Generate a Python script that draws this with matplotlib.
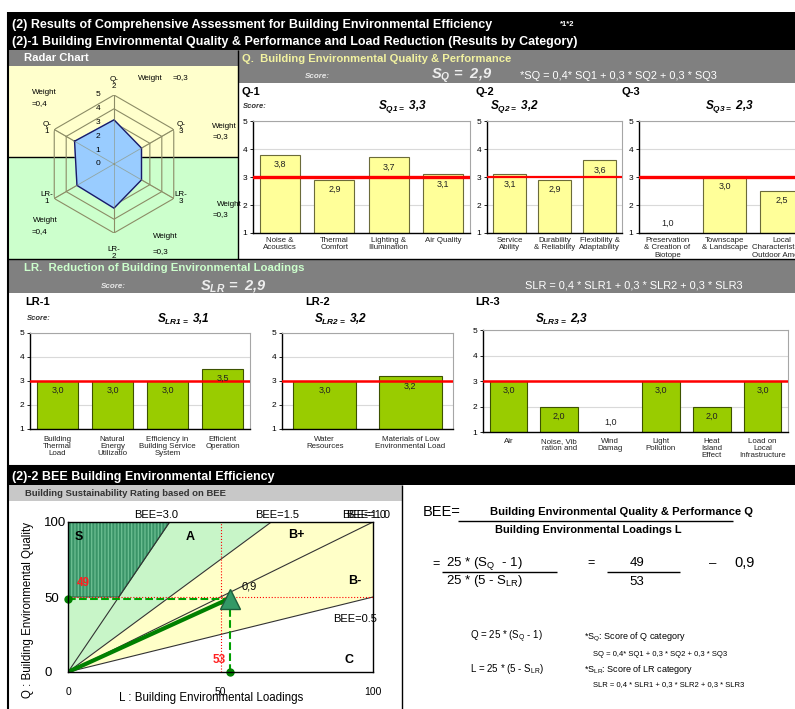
import matplotlib
matplotlib.use('Agg')
import matplotlib.pyplot as plt
import numpy as np
from matplotlib.patches import Rectangle, Polygon

plt.rcParams['font.family'] = ['Liberation Sans', 'DejaVu Sans']
plt.rcParams['mathtext.default'] = 'regular'
plt.rcParams['hatch.linewidth'] = 0.9

# ---------------- data ----------------
radar_labels = ['Q-\n1', 'Q-\n2', 'Q-\n3', 'LR-\n3', 'LR-\n2', 'LR-\n1']
radar_scores = [3.3, 3.2, 2.3, 2.3, 3.2, 3.1]
radar_weights = ['=0,4', '=0,3', '=0,3', '=0,3', '=0,3', '=0,4']

q1_cats = ['Noise &\nAcoustics', 'Thermal\nComfort', 'Lighting &\nIllumination', 'Air Quality']
q1_vals = [3.8, 2.9, 3.7, 3.1]
q2_cats = ['Service\nAbility', 'Durability\n& Reliability', 'Flexibility &\nAdaptability']
q2_vals = [3.1, 2.9, 3.6]
q3_cats = ['Preservation\n& Creation of\nBiotope', 'Townscape\n& Landscape',
           'Local\nCharacteristics &\nOutdoor Amenity']
q3_vals = [1.0, 3.0, 2.5]
lr1_cats = ['Building\nThermal\nLoad', 'Natural\nEnergy\nUtilizatio',
            'Efficiency in\nBuilding Service\nSystem', 'Efficient\nOperation']
lr1_vals = [3.0, 3.0, 3.0, 3.5]
lr2_cats = ['Water\nResources', 'Materials of Low\nEnvironmental Load']
lr2_vals = [3.0, 3.2]
lr3_cats = ['Air', 'Noise, Vib\nration and', 'Wind\nDamag', 'Light\nPollution',
            'Heat\nIsland\nEffect', 'Load on\nLocal\nInfrastructure']
lr3_vals = [3.0, 2.0, 1.0, 3.0, 2.0, 3.0]

S_Q, S_LR = 2.9, 2.9
S_Q1, S_Q2, S_Q3 = 3.3, 3.2, 2.3
S_LR1, S_LR2, S_LR3 = 3.1, 3.2, 2.3
Q_score, L_score = 49, 53
BEE_value = 0.9
bee_levels = [3.0, 1.5, 1.0, 0.5]


def fmt(v):
    return f'{v:.1f}'.replace('.', ',')


# ---------------- figure ----------------
W, H = 795, 709
fig = plt.figure(figsize=(W / 100, H / 100), dpi=100)
fig.patch.set_facecolor('white')

bg = fig.add_axes([0, 0, 1, 1])
bg.set_xlim(0, W)
bg.set_ylim(H, 0)
bg.axis('off')


def add_ax(x0, y0, x1, y1, **kw):
    return fig.add_axes([x0 / W, 1 - y1 / H, (x1 - x0) / W, (y1 - y0) / H], **kw)


def R(x0, y0, x1, y1, color, **kw):
    bg.add_patch(Rectangle((x0, y0), x1 - x0, y1 - y0, facecolor=color, edgecolor='none', **kw))


def L(xs, ys, color='black', lw=1, **kw):
    bg.plot(xs, ys, color=color, lw=lw, solid_capstyle='butt', **kw)


def T(x, y, s, size=7, color='black', weight='normal', style='normal', ha='left', va='center', **kw):
    bg.text(x, y, s, fontsize=size, color=color, fontweight=weight, fontstyle=style,
            ha=ha, va=va, **kw)


# backgrounds
R(8, 12, W, 50, 'black')
R(8, 50, 238, 66, '#808080')
R(8, 66, 238, 157, '#ffffcc')
R(8, 157, 238, 259, '#ccffcc')
R(238, 50, W, 83, '#808080')
R(8, 259, W, 293, '#808080')
R(8, 466, W, 485, 'black')
R(8, 485, 402, 501, '#c8c8c8')
L([8, 8], [12, 709], lw=1.5)
L([238, 238], [50, 259], lw=1)
L([8, 238], [157, 157], lw=1)
L([402, 402], [485, 709], lw=1)
L([8, W], [258.5, 258.5], lw=1)
L([8, W], [466, 466], lw=1.5)

# titles
T(12, 25, '(2) Results of Comprehensive Assessment for Building Environmental Efficiency',
  size=9, color='white', weight='bold')
T(560, 24, '*1*2', size=5.5, color='white', weight='bold')
T(12, 42, '(2)-1 Building Environmental Quality & Performance and Load Reduction (Results by Category)',
  size=9, color='white', weight='bold')
T(24, 58, 'Radar Chart', size=8.1, color='white', weight='bold')
T(242, 59, 'Q.  Building Environmental Quality & Performance', size=8.1, color='#f2f2a0', weight='bold')
T(305, 76, 'Score:', size=5.8, color='#e8e8e8', weight='bold', style='italic')
T(431, 76, '$S_Q$ =  ' + fmt(S_Q), size=10.5, color='#eeeeee', weight='bold', style='italic')
T(520, 76, '*SQ = 0,4* SQ1 + 0,3 * SQ2 + 0,3 * SQ3', size=7.9, color='white')

T(24, 268, 'LR.  Reduction of Building Environmental Loadings', size=8.2, color='#ccffcc', weight='bold')
T(101, 286, 'Score:', size=5.8, color='#e8e8e8', weight='bold', style='italic')
T(200, 286, '$S_{LR}$ =  ' + fmt(S_LR), size=10.5, color='#eeeeee', weight='bold', style='italic')
T(525, 286, 'SLR = 0,4 * SLR1 + 0,3 * SLR2 + 0,3 * SLR3', size=7.9, color='white')

# panel titles
T(242, 92, 'Q-1', size=8, weight='bold')
T(243, 107, 'Score:', size=5.5, weight='bold', style='italic', color='#333333')
T(378, 107, '$S_{Q1=}$ ' + fmt(S_Q1), size=8.5, weight='bold', style='italic')
T(476, 92, 'Q-2', size=8, weight='bold')
T(490, 107, '$S_{Q2=}$ ' + fmt(S_Q2), size=8.5, weight='bold', style='italic')
T(621, 92, 'Q-3', size=8, weight='bold')
T(705, 107, '$S_{Q3=}$ ' + fmt(S_Q3), size=8.5, weight='bold', style='italic')

T(25, 302, 'LR-1', size=8, weight='bold')
T(27, 319, 'Score:', size=5.5, weight='bold', style='italic', color='#333333')
T(157, 319, '$S_{LR1=}$ ' + fmt(S_LR1), size=8.5, weight='bold', style='italic')
T(305, 302, 'LR-2', size=8, weight='bold')
T(314, 319, '$S_{LR2=}$ ' + fmt(S_LR2), size=8.5, weight='bold', style='italic')
T(475, 302, 'LR-3', size=8, weight='bold')
T(535, 319, '$S_{LR3=}$ ' + fmt(S_LR3), size=8.5, weight='bold', style='italic')


# ---------------- bar panels ----------------
def bar_panel(box, cats, vals, color, edge, red_lw, lab_size=5.7, lab_pad=3):
    ax = add_ax(*box)
    x = np.arange(len(cats))
    ax.bar(x, vals, width=0.74, color=color, edgecolor=edge, linewidth=0.8, zorder=2)
    ax.axhline(3, color='red', lw=red_lw, zorder=3)
    ax.set_ylim(1, 5)
    ax.set_xlim(-0.5, len(cats) - 0.5)
    ax.set_yticks([1, 2, 3, 4, 5])
    ax.tick_params(axis='y', labelsize=6, length=2, pad=2, width=0.6)
    ax.set_xticks(x)
    ax.set_xticklabels(cats, fontsize=lab_size, linespacing=1.05, color='#222222')
    ax.tick_params(axis='x', length=0, pad=lab_pad)
    ax.yaxis.grid(True, color='#d9d9d9', lw=0.8)
    ax.set_axisbelow(True)
    for s in ['top', 'right']:
        ax.spines[s].set_color('#a6a6a6')
        ax.spines[s].set_linewidth(0.8)
    for s in ['left', 'bottom']:
        ax.spines[s].set_color('black')
        ax.spines[s].set_linewidth(1.0)
    for xi, v in zip(x, vals):
        off = -7 if v > 1 else 7
        ax.annotate(fmt(v), (xi, v), xytext=(0, off), textcoords='offset points',
                    ha='center', va='center', fontsize=6.5, color='#222222', zorder=5)
    return ax


QY, QE = '#ffff99', '#6b6b3a'
LG, LE = '#99cc00', '#3d5200'
bar_panel((253, 121, 470, 233), q1_cats, q1_vals, QY, QE, 2.4)
bar_panel((487, 121, 622, 233), q2_cats, q2_vals, QY, QE, 1.6)
bar_panel((639, 121, 810, 233), q3_cats, q3_vals, QY, QE, 2.4)
bar_panel((30, 333, 250, 429), lr1_cats, lr1_vals, LG, LE, 1.8, lab_pad=5)
bar_panel((282, 333, 453, 429), lr2_cats, lr2_vals, LG, LE, 1.8, lab_pad=5)
bar_panel((483, 330, 788, 432), lr3_cats, lr3_vals, LG, LE, 1.8, lab_pad=4)

# ---------------- radar ----------------
axr = add_ax(45, 95, 183, 233, projection='polar')
axr.set_ylim(0, 5)
axr.set_axis_off()
ang = np.deg2rad([150, 90, 30, -30, -90, -150])
ang_c = np.append(ang, ang[0])
grid_c = '#8c8c66'
for r in range(1, 6):
    axr.plot(ang_c, [r] * 7, color=grid_c, lw=0.8, zorder=1)
for a in ang:
    axr.plot([a, a], [0, 5], color=grid_c, lw=0.8, zorder=1)
sc = np.append(radar_scores, radar_scores[0])
axr.fill(ang_c, sc, color='#99ccff', zorder=2)
axr.plot(ang_c, sc, color='#1a1a66', lw=1.0, zorder=3)
for a in ang:
    axr.plot([a, a], [0, 5], color=grid_c, lw=0.6, alpha=0.6, zorder=3)
for r in range(0, 6):
    axr.annotate(str(r), (np.pi / 2, r), xytext=(-11.5, 0), textcoords='offset points',
                 ha='center', va='center', fontsize=6, zorder=4)

lab_pos = [(47, 128), (114, 83), (181, 128), (181, 198), (114, 253), (47, 198)]
for (x, y), s in zip(lab_pos, radar_labels):
    T(x, y, s, size=5.8, ha='center', linespacing=0.95)
w_pos = [((32, 93), (32, 104)), ((138, 78), (173, 78)), ((212, 126), (213, 137)),
         ((217, 205), (213, 215)), ((153, 237), (153, 252)), ((33, 220), (32, 232))]
for ((x1, y1), (x2, y2)), w in zip(w_pos, radar_weights):
    T(x1, y1, 'Weight', size=5.8)
    T(x2, y2, w, size=5.8)

# ---------------- BEE chart ----------------
T(12, 477, '(2)-2 BEE Building Environmental Efficiency', size=9, color='white', weight='bold')
T(25, 493, 'Building Sustainability Rating based on BEE', size=6.8, color='#333333', weight='bold')

axb = add_ax(68, 522, 373, 672)
axb.set_xlim(0, 100)
axb.set_ylim(0, 100)
b3, b15, b10, b05 = bee_levels
axb.add_patch(Polygon([(0, 0), (100 / b15, 100), (0, 100)], closed=True,
                      facecolor='#c8f5c8', edgecolor='none', zorder=1))
axb.add_patch(Polygon([(0, 0), (100, 100 * b05), (100, 100), (100 / b15, 100)], closed=True,
                      facecolor='#ffffc8', edgecolor='none', zorder=1))
s_poly = [(0, 50), (0, 100), (100 / b3, 100), (50 / b3, 50)]
axb.add_patch(Polygon(s_poly, closed=True, facecolor='#3a9468', edgecolor='#6cbf92',
                      lw=0, hatch='|||||', zorder=2))
axb.add_patch(Polygon(s_poly, closed=True, facecolor='none', edgecolor='#2a6a48', lw=0.8, zorder=2))
for b in bee_levels:
    ex, ey = min(100 / b, 100), min(100 * b, 100)
    axb.plot([0, ex], [0, ey], color='#333333', lw=0.8, zorder=3)
axb.axvline(50, color='red', ls=':', lw=0.8, zorder=3)
axb.axhline(50, color='red', ls=':', lw=0.8, zorder=3)
axb.plot([0, L_score], [Q_score, Q_score], ls='--', color='#00a000', lw=1.5, zorder=4)
axb.plot([L_score, L_score], [0, Q_score], ls='--', color='#00a000', lw=1.5, zorder=4)
axb.plot([0], [Q_score], 'o', ms=5, color='#008000', clip_on=False, zorder=6)
axb.plot([L_score], [0], 'o', ms=5, color='#008000', clip_on=False, zorder=6)
axb.plot([0, L_score], [0, Q_score], color='#008000', lw=3, zorder=5, solid_capstyle='butt')
axb.plot([L_score], [Q_score], marker='^', ms=15, mfc='#339966', mec='#1b5e3b', zorder=7)

axb.text(57, 55, fmt(BEE_value), fontsize=8, zorder=8)
axb.text(3, 59, str(Q_score), fontsize=8.5, color='#ff2020', weight='bold', va='center', zorder=8)
axb.text(49.5, 8, str(L_score), fontsize=8.5, color='#ff2020', weight='bold', ha='center',
         va='center', zorder=8)
for b, xpos in [(b3, 29), (b15, 68.5)]:
    axb.text(xpos, 101, f'BEE={b:.1f}', fontsize=8, ha='center', va='bottom', clip_on=False)
axb.text(97, 101, f'BEE={b10:.1f}', fontsize=8, ha='center', va='bottom', clip_on=False)
axb.text(98.5, 101, f'BEE={b10:.1f}', fontsize=8, ha='center', va='bottom', clip_on=False)
axb.text(94, 35, f'BEE={b05:.1f}', fontsize=8, ha='center', va='center', zorder=8)
for s, (x, y) in {'S': (3.5, 90), 'A': (40, 90), 'B+': (75, 91), 'B-': (94, 61), 'C': (92, 8)}.items():
    axb.text(x, y, s, fontsize=9, weight='bold', ha='center', va='center', zorder=8)

axb.set_xticks([0, 50, 100])
axb.set_xticklabels(['0', '50', '100'], fontsize=7.5)
axb.tick_params(axis='x', length=0, pad=11)
axb.set_yticks([0, 50, 100])
axb.set_yticklabels(['0', '50', '100'], fontsize=9.5)
axb.tick_params(axis='y', length=0, pad=17)
for lab in axb.get_yticklabels():
    lab.set_horizontalalignment('left')
for s in axb.spines.values():
    s.set_color('black')
    s.set_linewidth(1)
    s.set_zorder(9)
axb.set_xlabel('L : Building Environmental Loadings', fontsize=8.3)
axb.xaxis.set_label_coords(0.47, -0.175)
axb.xaxis.label.set_va('center')
axb.set_ylabel('Q : Building Environmental Quality', fontsize=8.3)
axb.yaxis.set_label_coords(-0.131, 0.41)
axb.yaxis.label.set_va('center')

# ---------------- formula panel ----------------
T(423, 512, 'BEE=', size=10.5)
T(622, 512, 'Building Environmental Quality & Performance Q', size=8.1, weight='bold', ha='center')
L([458, 733], [521, 521], lw=1)
T(588, 530, 'Building Environmental Loadings L', size=7.9, weight='bold', ha='center')
T(432, 564, '=', size=9)
T(446, 564, '25 * (S$_Q$  - 1)', size=9.5)
L([442, 557], [571.5, 571.5], lw=1)
T(446, 581, '25 * (5 - S$_{LR}$)', size=9.5)
T(587, 563, '=', size=9)
T(637, 563, str(Q_score), size=9.5, ha='center')
L([607, 680], [571.5, 571.5], lw=1)
T(637, 582, str(L_score), size=9.5, ha='center')
T(713, 564, '–', size=9.5, ha='center')
T(745, 563, fmt(BEE_value), size=10.5, ha='center')

T(470, 637, 'Q = 25 * (S$_Q$ - 1)', size=7)
T(584, 637, '*S$_Q$: Score of Q category', size=6.5)
T(593, 654, 'SQ = 0,4* SQ1 + 0,3 * SQ2 + 0,3 * SQ3', size=5.5)
T(470, 669, 'L = 25 * (5 - S$_{LR}$)', size=7)
T(584, 669, '*S$_{LR}$: Score of LR category', size=6.5)
T(593, 685, 'SLR = 0,4 * SLR1 + 0,3 * SLR2 + 0,3 * SLR3', size=5.5)

fig.savefig('out.png', dpi=100)
